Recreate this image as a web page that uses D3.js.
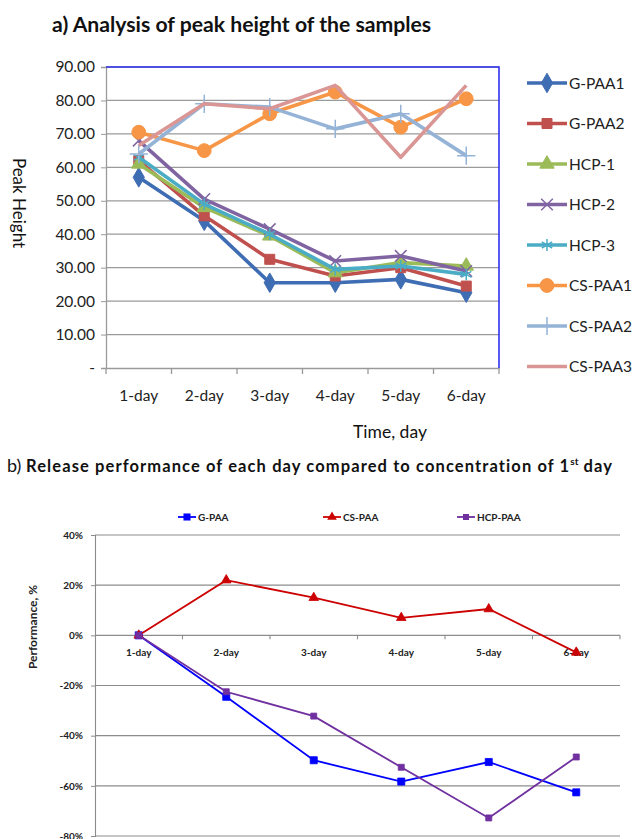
<!DOCTYPE html>
<html><head><meta charset="utf-8">
<script src="https://cdn.jsdelivr.net/npm/d3@7"></script>
<style>body{margin:0;background:#fff;}svg{display:block;font-family:Lato,"Open Sans",sans-serif;}</style>
</head><body>
<script>
const days = ["1-day","2-day","3-day","4-day","5-day","6-day"];
const seriesA = ["G-PAA1","G-PAA2","HCP-1","HCP-2","HCP-3","CS-PAA1","CS-PAA2","CS-PAA3"];
const gpaa1 = [57, 44, 25.5, 25.5, 26.5, 22.5];
const gpaa2 = [62, 45.5, 32.5, 27.5, 30, 24.5];
const hcp1 = [61, 48, 39.5, 28.5, 31.5, 30.5];
const hcp2 = [68, 50.5, 41.5, 32, 33.5, 29];
const hcp3 = [63, 49, 40, 29.5, 30.5, 28];
const cspaa1 = [70.5, 65, 76, 82.5, 72, 80.5];
const cspaa2 = [64, 79, 78, 71.5, 76, 63.5];
const cspaa3 = [66.5, 79, 77.5, 84.5, 63, 84.5];
const valuesA = [gpaa1, gpaa2, hcp1, hcp2, hcp3, cspaa1, cspaa2, cspaa3];
const colorsA = ["#3F6DB3","#C0504D","#9BBB59","#8064A2","#4BACC6","#F79646","#95B3D7","#D99694"];
const symbolsA = ["diamond","square","triangle","x","asterisk","circle","plus","none"];
const yTicksA = [0,10,20,30,40,50,60,70,80,90];

const seriesB = ["G-PAA","CS-PAA","HCP-PAA"];
const gpaa = [0, -24.5, -49.8, -58.3, -50.5, -62.6];
const cspaa = [0, 22, 15, 7, 10.5, -6.8];
const hcppaa = [0, -22.5, -32.2, -52.6, -72.8, -48.5];
const valuesB = [gpaa, cspaa, hcppaa];
const colorsB = ["#0000FF","#CC0000","#7030A0"];
const symbolsB = ["square","triangle","squareX"];
const yTicksB = [40,20,0,-20,-40,-60,-80];

const W = 636, H = 839;
const svg = d3.select("body").append("svg").attr("width", W).attr("height", H);

function symPath(name, size){
  const map = {diamond:d3.symbolDiamond, square:d3.symbolSquare, triangle:d3.symbolTriangle,
    x:d3.symbolX, asterisk:d3.symbolAsterisk, circle:d3.symbolCircle, plus:d3.symbolPlus, squareX:d3.symbolSquare};
  return d3.symbol().type(map[name]).size(size)();
}
const strokeSym = new Set(["x","asterisk","plus"]);

// ---------- Chart a ----------
svg.append("text").attr("x", 52).attr("y", 32).attr("font-size", 21.2).attr("font-weight", "bold")
  .attr("fill", "#111").text("a) Analysis of peak height of the samples");

const xA = d3.scaleBand().domain(days).range([106, 499]);
const yA = d3.scaleLinear().domain([0, 90]).range([368, 67]);
const gA = svg.append("g");

gA.selectAll("line.grid").data(yTicksA.filter(d => d > 0)).join("line")
  .attr("x1", 106).attr("x2", 499).attr("y1", d => yA(d)).attr("y2", d => yA(d))
  .attr("stroke", "#9a9a9a").attr("stroke-width", 1.3);

// y axis
const axA = gA.append("g").attr("transform", "translate(106,0)")
  .call(d3.axisLeft(yA).tickValues(yTicksA).tickSize(5).tickPadding(6)
    .tickFormat(d => d === 0 ? "-" : d3.format(".2f")(d)));
axA.select(".domain").attr("stroke", "#9a9a9a").attr("stroke-width", 1.3);
axA.selectAll(".tick line").attr("stroke", "#9a9a9a");
axA.selectAll("text").attr("font-size", 15.5).attr("fill", "#222").attr("font-family", "Lato");

// x axis
const axX = gA.append("g").attr("transform", "translate(0,368)")
  .call(d3.axisBottom(xA).tickSize(0).tickPadding(22));
axX.select(".domain").attr("stroke", "#9a9a9a").attr("stroke-width", 1.3);
axX.selectAll("text").attr("font-size", 15.5).attr("fill", "#222").attr("font-family", "Lato");
gA.selectAll("line.xt").data(d3.range(days.length + 1)).join("line")
  .attr("x1", i => 106 + i * xA.step()).attr("x2", i => 106 + i * xA.step())
  .attr("y1", 368).attr("y2", 374).attr("stroke", "#9a9a9a").attr("stroke-width", 1.3);

// blue border top and right
gA.append("path").attr("d", `M106,67H499V368`).attr("fill", "none").attr("stroke", "#3030F0").attr("stroke-width", 1.6);

svg.append("text").attr("transform", "translate(13,203) rotate(90)").attr("text-anchor", "middle")
  .attr("font-size", 17).attr("fill", "#111").text("Peak Height");
svg.append("text").attr("x", 390).attr("y", 438).attr("text-anchor", "middle")
  .attr("font-size", 17.5).attr("fill", "#111").text("Time, day");

const lineA = d3.line().x((d, i) => xA(days[i]) + xA.bandwidth() / 2).y(d => yA(d));
const sizesA = {diamond:110, square:100, triangle:90, x:90, asterisk:100, circle:150, plus:110, none:0};
valuesA.forEach((vals, k) => {
  const g = gA.append("g");
  g.append("path").attr("d", lineA(vals)).attr("fill", "none").attr("stroke", colorsA[k])
    .attr("stroke-width", 3.6).attr("stroke-linejoin", "round");
  if (symbolsA[k] !== "none") {
    g.selectAll("path.m").data(vals).join("path")
      .attr("transform", (d, i) => `translate(${xA(days[i]) + xA.bandwidth() / 2},${yA(d)})`)
      .attr("d", symPath(symbolsA[k], sizesA[symbolsA[k]]))
      .attr("fill", strokeSym.has(symbolsA[k]) ? "none" : colorsA[k])
      .attr("stroke", colorsA[k]).attr("stroke-width", strokeSym.has(symbolsA[k]) ? 1.5 : 1);
  }
});

// legend a
const legA = svg.append("g");
seriesA.forEach((s, k) => {
  const y = 83 + k * 40.5;
  legA.append("line").attr("x1", 527).attr("x2", 567).attr("y1", y).attr("y2", y)
    .attr("stroke", colorsA[k]).attr("stroke-width", 3.6);
  if (symbolsA[k] !== "none") {
    legA.append("path").attr("transform", `translate(547,${y})`)
      .attr("d", symPath(symbolsA[k], sizesA[symbolsA[k]]))
      .attr("fill", strokeSym.has(symbolsA[k]) ? "none" : colorsA[k])
      .attr("stroke", colorsA[k]).attr("stroke-width", strokeSym.has(symbolsA[k]) ? 1.5 : 1);
  }
  legA.append("text").attr("x", 569).attr("y", y + 5.5).attr("font-size", 15.5).attr("fill", "#222").text(s);
});

// ---------- Chart b ----------
const tB = svg.append("text").attr("x", 7).attr("y", 472).attr("fill", "#111");
tB.append("tspan").attr("font-size", 18).text("b) ");
tB.append("tspan").attr("font-size", 16.5).attr("font-weight", "bold").attr("letter-spacing", 1.1)
  .text("Release performance of each day compared to concentration of 1");
tB.append("tspan").attr("font-size", 10).attr("font-weight", "bold").attr("dy", -7).text("st");
tB.append("tspan").attr("font-size", 16.5).attr("font-weight", "bold").attr("letter-spacing", 1.1).attr("dy", 7).text(" day");

const xB = d3.scaleBand().domain(days).range([95, 620]);
const yB = d3.scaleLinear().domain([-80, 40]).range([836, 535]);
const gB = svg.append("g");

gB.selectAll("line.grid").data(yTicksB.filter(d => d !== 0)).join("line")
  .attr("x1", 95).attr("x2", 620).attr("y1", d => yB(d)).attr("y2", d => yB(d))
  .attr("stroke", "#8c8c8c").attr("stroke-width", 1.1);

const axB = gB.append("g").attr("transform", "translate(95,0)")
  .call(d3.axisLeft(yB).tickValues(yTicksB).tickSize(4).tickPadding(8).tickFormat(d => d + "%"));
axB.select(".domain").attr("stroke", "#8c8c8c").attr("stroke-width", 1.1);
axB.selectAll(".tick line").attr("stroke", "#8c8c8c");
axB.selectAll("text").attr("font-size", 10).attr("font-weight", "bold").attr("fill", "#222").attr("font-family", "Lato");

// zero axis with category ticks
gB.append("line").attr("x1", 95).attr("x2", 620).attr("y1", yB(0)).attr("y2", yB(0))
  .attr("stroke", "#8c8c8c").attr("stroke-width", 1.1);
gB.selectAll("line.xt").data(d3.range(1, days.length + 1)).join("line")
  .attr("x1", i => 95 + i * xB.step()).attr("x2", i => 95 + i * xB.step())
  .attr("y1", yB(0)).attr("y2", yB(0) + 4).attr("stroke", "#8c8c8c").attr("stroke-width", 1.1);
gB.selectAll("text.xl").data(days).join("text")
  .attr("x", d => xB(d) + xB.bandwidth() / 2).attr("y", yB(0) + 21).attr("text-anchor", "middle")
  .attr("font-size", 10).attr("font-weight", "bold").attr("fill", "#222").text(d => d);

svg.append("text").attr("transform", "translate(37,627) rotate(-90)").attr("text-anchor", "middle")
  .attr("font-size", 12).attr("font-weight", "bold").attr("fill", "#222").text("Performance, %");

const lineB = d3.line().x((d, i) => xB(days[i]) + xB.bandwidth() / 2).y(d => yB(d));
const sizesB = {square:50, triangle:40, squareX:36};
valuesB.forEach((vals, k) => {
  const g = gB.append("g");
  g.append("path").attr("d", lineB(vals)).attr("fill", "none").attr("stroke", colorsB[k]).attr("stroke-width", 1.8);
  g.selectAll("path.m").data(vals).join("path")
    .attr("transform", (d, i) => `translate(${xB(days[i]) + xB.bandwidth() / 2},${yB(d)})`)
    .attr("d", symPath(symbolsB[k], sizesB[symbolsB[k]]))
    .attr("fill", colorsB[k]).attr("stroke", colorsB[k]).attr("stroke-width", 0.8);
});

// legend b
const legBx = [178, 323, 457];
seriesB.forEach((s, k) => {
  const y = 517;
  const x0 = legBx[k];
  svg.append("line").attr("x1", x0).attr("x2", x0 + 18).attr("y1", y).attr("y2", y)
    .attr("stroke", colorsB[k]).attr("stroke-width", 1.8);
  svg.append("path").attr("transform", `translate(${x0 + 9},${y})`)
    .attr("d", symPath(symbolsB[k], sizesB[symbolsB[k]])).attr("fill", colorsB[k]);
  svg.append("text").attr("x", x0 + 20).attr("y", y + 3.5).attr("font-size", 10)
    .attr("font-weight", "bold").attr("fill", "#222").text(s);
});
</script>
</body></html>
